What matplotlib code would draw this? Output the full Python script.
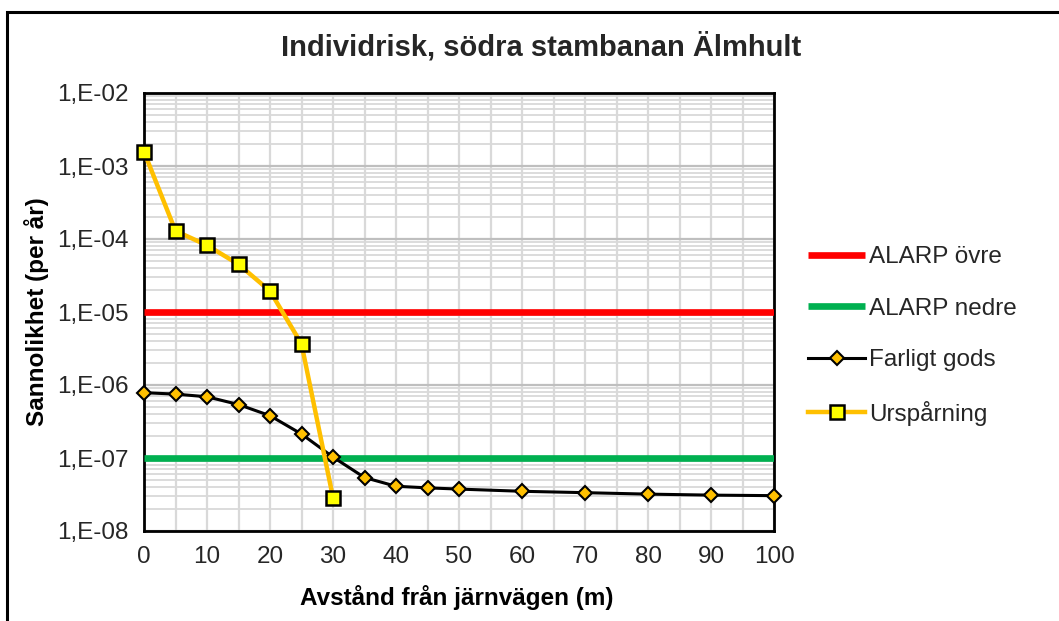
import matplotlib
matplotlib.use("Agg")
import matplotlib.pyplot as plt
from matplotlib.ticker import FixedLocator, FuncFormatter, NullFormatter
from matplotlib.patches import Rectangle
import math

plt.rcParams['font.family'] = ['Liberation Sans', 'DejaVu Sans']

# ---- data ----
x_fg = [0, 5, 10, 15, 20, 25, 30, 35, 40, 45, 50, 60, 70, 80, 90, 100]
y_fg = [7.85e-7, 7.5e-7, 6.9e-7, 5.4e-7, 3.8e-7, 2.13e-7, 1.03e-7, 5.4e-8,
        4.1e-8, 3.9e-8, 3.75e-8, 3.5e-8, 3.35e-8, 3.2e-8, 3.1e-8, 3.05e-8]
x_ur = [0, 5, 10, 15, 20, 25, 30]
y_ur = [1.57e-3, 1.29e-4, 8.2e-5, 4.5e-5, 1.94e-5, 3.65e-6, 2.86e-8]
x_alarp = [0, 100]
alarp_upper = [1e-5, 1e-5]
alarp_lower = [1e-7, 1e-7]

labels = ["ALARP övre", "ALARP nedre", "Farligt gods", "Urspårning"]
title = "Individrisk, södra stambanan Älmhult"
xlabel = "Avstånd från järnvägen (m)"
ylabel = "Sannolikhet (per år)"
x_ticks = [0, 10, 20, 30, 40, 50, 60, 70, 80, 90, 100]
y_ticks = [1e-8, 1e-7, 1e-6, 1e-5, 1e-4, 1e-3, 1e-2]

W, H = 1059, 621
fig = plt.figure(figsize=(W / 100, H / 100), dpi=100)
ax = fig.add_axes([144 / W, 1 - 531 / H, (774 - 144) / W, (531 - 93) / H])

# outer chart-area frame
fig.patches.append(Rectangle((7 / W, -0.1), 1.2, (1 - 12 / H) + 0.1,
                             transform=fig.transFigure, fill=False,
                             edgecolor='black', linewidth=2.2, zorder=0))

ax.set_yscale('log')
ax.set_xlim(0, 100)
ax.set_ylim(1e-8, 1e-2)

ax.plot(x_alarp, alarp_upper, color='#FF0000', lw=4.8, solid_capstyle='butt',
        label=labels[0], zorder=3)
ax.plot(x_alarp, alarp_lower, color='#00B050', lw=4.8, solid_capstyle='butt',
        label=labels[1], zorder=3)
ax.plot(x_fg, y_fg, color='black', lw=2.2, marker='D', markersize=7.5,
        markerfacecolor='#FFC000', markeredgecolor='black', markeredgewidth=1.5,
        label=labels[2], zorder=4, clip_on=False)
ax.plot(x_ur, y_ur, color='#FFC000', lw=3.2, marker='s', markersize=10,
        markerfacecolor='#FFFF00', markeredgecolor='black', markeredgewidth=1.8,
        label=labels[3], zorder=5, clip_on=False)

# grid
ax.yaxis.set_major_locator(FixedLocator(y_ticks))
minor_y = [m * 10.0 ** e for e in range(-8, -2) for m in range(2, 10)]
ax.yaxis.set_minor_locator(FixedLocator(minor_y))
ax.yaxis.set_minor_formatter(NullFormatter())
ax.xaxis.set_major_locator(FixedLocator(x_ticks))
ax.xaxis.set_minor_locator(FixedLocator(list(range(5, 100, 10))))

ax.grid(True, which='major', axis='y', color='#BFBFBF', lw=1.6, zorder=0)
ax.grid(True, which='minor', axis='y', color='#D9D9D9', lw=1.3, zorder=0)
ax.grid(True, which='both', axis='x', color='#D9D9D9', lw=1.6, zorder=0)
ax.set_axisbelow(True)

def yfmt(v, pos):
    e = int(round(math.log10(v)))
    return "1,E-%02d" % (-e)

ax.yaxis.set_major_formatter(FuncFormatter(yfmt))
ax.tick_params(which='both', length=0)
ax.tick_params(axis='y', pad=11, labelsize=17.5, labelcolor='#262626')
ax.tick_params(axis='x', pad=11, labelsize=17.5, labelcolor='#262626')

for s in ax.spines.values():
    s.set_linewidth(2)
    s.set_color('black')

ax.set_xlabel(xlabel, fontsize=17.5, fontweight='bold')
ax.xaxis.set_label_coords((457 - 144) / (774 - 144), -(597 - 531) / (531 - 93))
ax.set_ylabel(ylabel, fontsize=17.5, fontweight='bold')
ax.yaxis.set_label_coords(-(144 - 37) / (774 - 144), 0.5)
ax.xaxis.label.set_va('center')
ax.yaxis.label.set_va('center')

fig.text(541 / W, 1 - 47 / H, title, ha='center', va='center',
         fontsize=21, fontweight='bold', color='#262626')

leg = fig.legend(loc='upper left', bbox_to_anchor=(808 / W, 1 - 246 / H),
                 bbox_transform=fig.transFigure, frameon=False, fontsize=17.5,
                 handlelength=2.35, handletextpad=0.15, labelspacing=1.22,
                 borderaxespad=0, borderpad=0)
for t in leg.get_texts():
    t.set_color('#262626')

fig.savefig("out.png", dpi=100)
